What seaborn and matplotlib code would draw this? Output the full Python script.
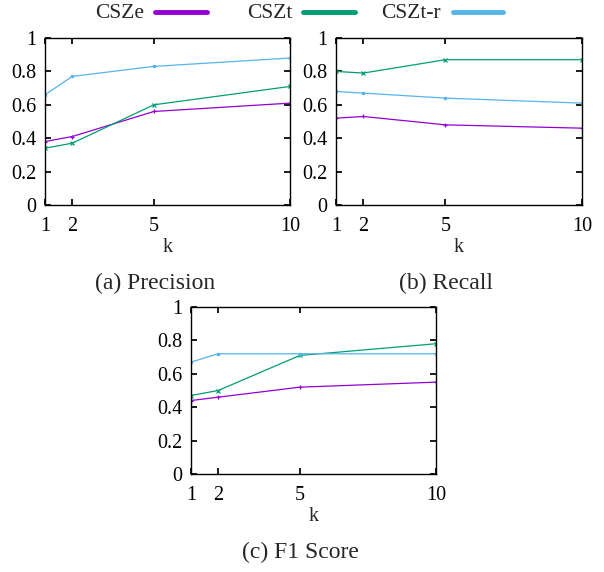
import matplotlib
matplotlib.use("Agg")
import matplotlib.pyplot as plt
import pandas as pd
import seaborn as sns
from matplotlib.lines import Line2D

# values
k_values = [1, 2, 5, 10]
methods = ["CSZe", "CSZt", "CSZt-r"]

precision_cze = [0.38, 0.41, 0.56, 0.61]
precision_czt = [0.34, 0.37, 0.60, 0.71]
precision_cztr = [0.66, 0.77, 0.83, 0.88]

recall_cze = [0.52, 0.53, 0.48, 0.46]
recall_czt = [0.80, 0.79, 0.87, 0.87]
recall_cztr = [0.68, 0.67, 0.64, 0.61]

f1_cze = [0.44, 0.46, 0.52, 0.55]
f1_czt = [0.47, 0.50, 0.71, 0.78]
f1_cztr = [0.67, 0.72, 0.72, 0.72]

y_ticks = [0, 0.2, 0.4, 0.6, 0.8, 1]
y_tick_labels = ["0", "0.2", "0.4", "0.6", "0.8", "1"]

colors = {"CSZe": "#9400d3", "CSZt": "#009e73", "CSZt-r": "#56b4e9"}
markers = {"CSZe": "+", "CSZt": "x", "CSZt-r": "s"}


def long_frame(series):
    rows = []
    for name, vals in zip(methods, series):
        for k, v in zip(k_values, vals):
            rows.append({"k": k, "score": v, "method": name})
    return pd.DataFrame(rows)


panels = [
    ("(a) Precision", [precision_cze, precision_czt, precision_cztr]),
    ("(b) Recall", [recall_cze, recall_czt, recall_cztr]),
    ("(c) F1 Score", [f1_cze, f1_czt, f1_cztr]),
]

sns.set_theme(style="ticks")
plt.rcParams["font.family"] = ["Liberation Serif", "DejaVu Serif"]
plt.rcParams["axes.linewidth"] = 1.0

W, H = 604, 572
fig = plt.figure(figsize=(W / 100, H / 100), dpi=100)

# axes boxes in pixels: left, top, right, bottom
boxes = [(45, 38, 290, 205), (336, 38, 582, 205), (191, 307, 436, 474)]
# caption centre (x, y) in pixels
captions = [(155, 283), (446, 283), (300, 552)]

for (title, series), (l, t, r, b), (cx, cy) in zip(panels, boxes, captions):
    ax = fig.add_axes([l / W, 1 - b / H, (r - l) / W, (b - t) / H])
    df = long_frame(series)
    for name in methods:
        sub = df[df["method"] == name]
        sns.lineplot(data=sub, x="k", y="score", ax=ax, color=colors[name],
                     marker=markers[name], markersize=3 if name != "CSZt-r" else 1.8,
                     markeredgewidth=0.9, markeredgecolor=colors[name],
                     linewidth=0.9, legend=False)
    ax.set_xlim(1, 10)
    ax.set_ylim(0, 1)
    ax.set_xticks(k_values)
    ax.set_xticklabels([str(k) for k in k_values])
    ax.set_yticks(y_ticks)
    ax.set_yticklabels(y_tick_labels)
    ax.tick_params(direction="in", top=True, right=True, length=4.5,
                   labelsize=14.5, color="black", labelcolor="black")
    ax.tick_params(axis="x", pad=9)
    ax.tick_params(axis="y", pad=6)
    ax.set_xlabel("k", fontsize=14.5, labelpad=1)
    ax.set_ylabel("")
    for s in ax.spines.values():
        s.set_visible(True)
        s.set_color("black")
    fig.text(cx / W, 1 - cy / H, title, ha="center", va="center", fontsize=17)

# legend across the top, gnuplot style: label then line sample
legend_items = [("CSZe", 120, 155, 207), ("CSZt", 270, 303, 355), ("CSZt-r", 411, 453, 503)]
for name, tx, x0, x1 in legend_items:
    fig.text(tx / W, 1 - 13 / H, name, ha="center", va="center", fontsize=15.5)
    fig.add_artist(Line2D([x0 / W, x1 / W], [1 - 12 / H, 1 - 12 / H],
                          color=colors[name], linewidth=3.5,
                          transform=fig.transFigure))

fig.savefig("out.png", dpi=100)
